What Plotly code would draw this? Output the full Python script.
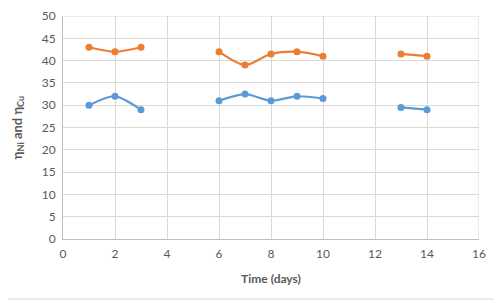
import plotly.graph_objects as go

days = [1, 2, 3, 4, 5, 6, 7, 8, 9, 10, 11, 12, 13, 14]
eta_cu = [43, 42, 43, None, None, 42, 39, 41.5, 42, 41, None, None, 41.5, 41]
eta_ni = [30, 32, 29, None, None, 31, 32.5, 31, 32, 31.5, None, None, 29.5, 29]

FONT = "Lato, 'Open Sans', sans-serif"
GRAY = "#595959"

fig = go.Figure()
fig.add_trace(go.Scatter(x=days, y=eta_ni, mode="lines+markers", connectgaps=False,
                         line=dict(color="#5B9BD5", width=2.2, shape="spline", smoothing=0.8),
                         marker=dict(color="#5B9BD5", size=7), name="ηNi"))
fig.add_trace(go.Scatter(x=days, y=eta_cu, mode="lines+markers", connectgaps=False,
                         line=dict(color="#ED7D31", width=2.2, shape="spline", smoothing=0.8),
                         marker=dict(color="#ED7D31", size=7), name="ηCu"))

fig.update_layout(
    width=494, height=294,
    margin=dict(l=55, r=23, t=8, b=63),
    paper_bgcolor="white", plot_bgcolor="white",
    showlegend=False,
    font=dict(family=FONT, color=GRAY, size=12),
    xaxis=dict(range=[0, 16], tick0=0, dtick=2, showgrid=True, gridcolor="#D9D9D9", gridwidth=1,
               showline=True, linecolor="#BFBFBF", linewidth=1, zeroline=False, ticks="",
               tickfont=dict(size=12, color=GRAY), automargin=False, ticklabelstandoff=4,
               title=dict(text="<b>Time (days)</b>", font=dict(size=12, color=GRAY), standoff=14)),
    yaxis=dict(range=[0, 50], tick0=0, dtick=5, showgrid=True, gridcolor="#D9D9D9", gridwidth=1,
               showline=True, linecolor="#BFBFBF", linewidth=1, zeroline=False, ticks="",
               tickfont=dict(size=12, color=GRAY), automargin=False, ticklabelstandoff=4,
               title=dict(text="<b>η<sub>Ni</sub> and η<sub>Cu</sub></b>", font=dict(size=13, color=GRAY), standoff=16)),
    shapes=[dict(type="rect", xref="paper", yref="paper", x0=-62/416, x1=1+20/416, y0=-60/223, y1=1+15/223,
                 line=dict(color="#D9D9D9", width=1), fillcolor="rgba(0,0,0,0)", layer="below"),
            dict(type="line", xref="x", yref="paper", x0=16, x1=16, y0=0, y1=1,
                 line=dict(color="#D9D9D9", width=1)),
            dict(type="line", xref="paper", yref="y", x0=0, x1=1, y0=50, y1=50,
                 line=dict(color="#D9D9D9", width=1))],
)

fig.write_html("out.html")
